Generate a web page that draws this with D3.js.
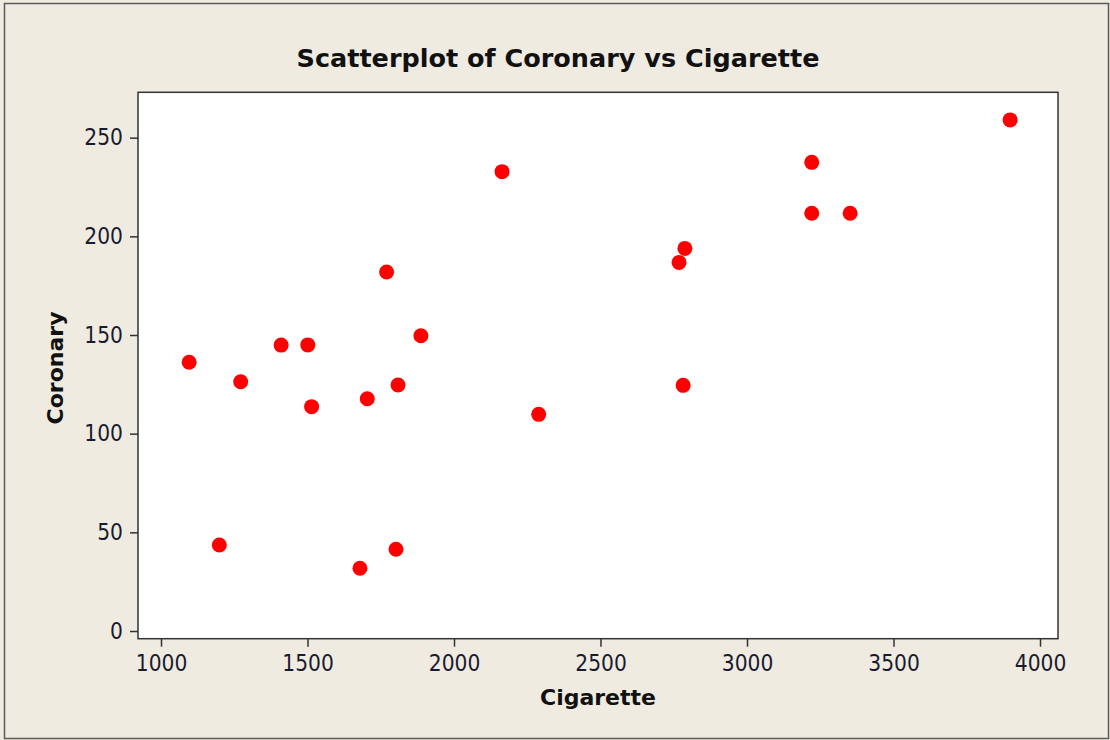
<!DOCTYPE html>
<html>
<head>
<meta charset="utf-8">
<script src="https://cdn.jsdelivr.net/npm/d3@7"></script>
<style>
  html, body { margin: 0; padding: 0; background: #EFEBE1; }
  svg { display: block; }
  .tick text { font-family: "DejaVu Sans Condensed", "DejaVu Sans", sans-serif; font-stretch: condensed; }
  .ttl { font-family: "DejaVu Sans", sans-serif; font-weight: bold; }
</style>
</head>
<body>
<svg id="chart" width="1110" height="740"></svg>
<script>
// Data
const cigarette = [1096, 1199, 1272, 1410, 1501, 1514, 1679, 1704, 1770, 1802, 1809, 1887,
                   2164, 2289, 2768, 2788, 2782, 3221, 3221, 3352, 3898];
const coronary  = [136.2, 43.6, 126.3, 144.9, 145.0, 113.7, 31.8, 117.7, 181.9, 41.4, 124.7, 149.6,
                   232.8, 109.8, 186.8, 193.9, 124.5, 237.5, 211.7, 211.7, 259.0];
const xTicks = [1000, 1500, 2000, 2500, 3000, 3500, 4000];
const yTicks = [0, 50, 100, 150, 200, 250];
const titleText = "Scatterplot of Coronary vs Cigarette";
const xLabel = "Cigarette";
const yLabel = "Coronary";

const W = 1110, H = 740;
const plot = { left: 138, top: 92.3, right: 1058, bottom: 638.7 };

const svg = d3.select("#chart");

// background + outer frame
svg.append("rect").attr("x", 0).attr("y", 0).attr("width", W).attr("height", H).attr("fill", "#EFEBE1");
svg.append("rect").attr("x", 4.5).attr("y", 3.5).attr("width", 1104).attr("height", 735)
   .attr("fill", "none").attr("stroke", "#5a5a5a").attr("stroke-width", 1.5);

const x = d3.scaleLinear().domain([921.5, 4061.4]).range([plot.left, plot.right]);
const y = d3.scaleLinear().domain([-3.9, 273.0]).range([plot.bottom, plot.top]);

// plot area
svg.append("rect").attr("x", plot.left).attr("y", plot.top)
   .attr("width", plot.right - plot.left).attr("height", plot.bottom - plot.top)
   .attr("fill", "#ffffff").attr("stroke", "#333333").attr("stroke-width", 1.5);

// axes
const xAxis = svg.append("g").attr("transform", `translate(0,${plot.bottom})`)
  .call(d3.axisBottom(x).tickValues(xTicks).tickSize(8).tickPadding(8).tickFormat(d3.format("d")));
const yAxis = svg.append("g").attr("transform", `translate(${plot.left},0)`)
  .call(d3.axisLeft(y).tickValues(yTicks).tickSize(8).tickPadding(7).tickFormat(d3.format("d")));
[xAxis, yAxis].forEach(g => {
  g.select(".domain").remove();
  g.selectAll(".tick line").attr("stroke", "#333333").attr("stroke-width", 1.5);
  g.selectAll(".tick text").attr("fill", "#1a1a2e").style("font-size", "22.5px");
});

// points
svg.append("g").selectAll("circle")
  .data(cigarette.map((c, i) => ({ c, v: coronary[i] })))
  .join("circle")
  .attr("cx", d => x(d.c)).attr("cy", d => y(d.v))
  .attr("r", 7.5).attr("fill", "#FF0000");

// titles
svg.append("text").attr("class", "ttl").attr("x", 558).attr("y", 67).attr("text-anchor", "middle")
   .style("font-size", "25.5px").attr("fill", "#111")
   .text(titleText);
svg.append("text").attr("class", "ttl").attr("x", 598).attr("y", 705).attr("text-anchor", "middle")
   .style("font-size", "22px").attr("fill", "#111")
   .text(xLabel);
svg.append("text").attr("class", "ttl").attr("transform", "translate(63,368) rotate(-90)").attr("text-anchor", "middle")
   .style("font-size", "22px").attr("fill", "#111")
   .text(yLabel);
</script>
</body>
</html>
